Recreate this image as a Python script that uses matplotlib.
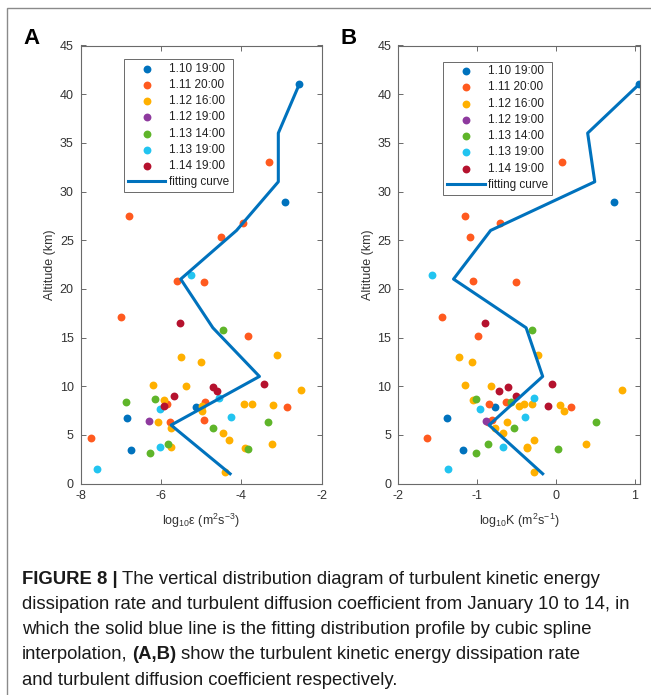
import matplotlib
matplotlib.use('Agg')
import matplotlib.pyplot as plt
from matplotlib.patches import Rectangle

# ---------------- data ----------------
series_labels = ['1.10 19:00', '1.11 20:00', '1.12 16:00', '1.12 19:00',
                 '1.13 14:00', '1.13 19:00', '1.14 19:00']
series_colors = ['#0072BD', '#FF5A1F', '#FFB000', '#8E3A9E',
                 '#5FB52A', '#22C4F0', '#B5122E']

alt_110 = [41.0, 28.9, 6.7, 3.4, 7.9]
eps_110 = [-2.56, -2.92, -6.84, -6.76, -5.14]
k_110 = [1.05, 0.73, -1.38, -1.18, -0.77]

alt_111 = [27.5, 25.3, 26.8, 33.0, 20.8, 20.7, 17.1, 15.2, 8.4, 7.9, 6.3, 6.5, 4.7, 8.2]
eps_111 = [-6.79, -4.50, -3.96, -3.31, -5.61, -4.93, -6.99, -3.84, -4.91, -2.87, -5.78, -4.92, -7.74, -5.85]
k_111 = [-1.155, -1.09, -0.71, 0.075, -1.05, -0.51, -1.45, -0.99, -0.64, 0.19, -0.86, -0.81, -1.64, -0.85]

alt_112a = [13.0, 12.5, 13.2, 10.1, 10.0, 9.6, 8.6, 8.0, 8.2, 8.2, 8.1, 7.4, 6.3, 5.7, 5.2, 4.5, 4.1, 3.8, 3.6, 1.2]
eps_112a = [-5.50, -5.01, -3.12, -6.19, -5.39, -2.52, -5.93, -4.99, -3.93, -3.73, -3.22, -4.99, -6.08, -5.76, -4.46, -4.32, -3.24, -5.75, -3.90, -4.40]
k_112a = [-1.23, -1.06, -0.23, -1.16, -0.83, 0.83, -1.05, -0.47, -0.41, -0.31, 0.045, 0.10, -0.62, -0.78, -0.67, -0.28, 0.38, -0.37, -0.37, -0.28]

alt_112b = [6.4]
eps_112b = [-6.31]
k_112b = [-0.89]

alt_113a = [15.8, 8.4, 8.7, 5.7, 6.3, 4.1, 3.1, 3.5]
eps_113a = [-4.45, -6.88, -6.14, -4.71, -3.34, -5.82, -6.28, -3.84]
k_113a = [-0.31, -0.57, -1.02, -0.53, 0.50, -0.86, -1.02, 0.03]

alt_113b = [21.4, 7.7, 8.8, 6.8, 3.7, 1.5]
eps_113b = [-5.25, -6.02, -4.56, -4.26, -6.03, -7.59]
k_113b = [-1.57, -0.96, -0.28, -0.39, -0.67, -1.37]

alt_114 = [16.5, 10.2, 9.9, 9.5, 9.0, 8.0]
eps_114 = [-5.53, -3.43, -4.71, -4.60, -5.67, -5.92]
k_114 = [-0.90, -0.05, -0.61, -0.73, -0.51, -0.10]

fit_alt = [1, 6, 11, 16, 21, 26, 31, 36, 41]
fit_eps = [-4.28, -5.75, -3.55, -4.71, -5.51, -4.12, -3.08, -3.08, -2.56]
fit_k = [-0.17, -0.85, -0.17, -0.38, -1.30, -0.83, 0.49, 0.40, 1.05]

alts = [alt_110, alt_111, alt_112a, alt_112b, alt_113a, alt_113b, alt_114]
eps_vals = [eps_110, eps_111, eps_112a, eps_112b, eps_113a, eps_113b, eps_114]
k_vals = [k_110, k_111, k_112a, k_112b, k_113a, k_113b, k_114]

xticks_a = [-8, -6, -4, -2]
xticks_b = [-2, -1, 0, 1]
yticks = [0, 5, 10, 15, 20, 25, 30, 35, 40, 45]

caption_lines = [
    [("FIGURE 8 |", 'bold'), ("The vertical distribution diagram of turbulent kinetic energy", 'normal')],
    [("dissipation rate and turbulent diffusion coefficient from January 10 to 14, in", 'normal')],
    [("which the solid blue line is the fitting distribution profile by cubic spline", 'normal')],
    [("interpolation,", 'normal'), ("(A,B)", 'bold'), ("show the turbulent kinetic energy dissipation rate", 'normal')],
    [("and turbulent diffusion coefficient respectively.", 'normal')],
]

# ---------------- figure ----------------
plt.rcParams['font.family'] = ['Liberation Sans', 'DejaVu Sans']
plt.rcParams['axes.unicode_minus'] = False
plt.rcParams['mathtext.fontset'] = 'custom'
plt.rcParams['mathtext.rm'] = 'Liberation Sans'
plt.rcParams['mathtext.it'] = 'Liberation Sans'

W, H = 651, 695
fig = plt.figure(figsize=(W / 100, H / 100), dpi=100)

def fx(px):
    return px / W

def fy(py):
    return 1 - py / H

axA = fig.add_axes([fx(80.7), fy(483.5), 241 / W, 438 / H])
axB = fig.add_axes([fx(398.3), fy(483.5), 241.2 / W, 438 / H])

spine_c = '#6a6a6a'
tick_c = '#333333'

def setup(ax, xvals, fit_x, xlim, xticks, xlabel, leg_anchor):
    for a, xv, c, lab in zip(alts, xvals, series_colors, series_labels):
        ax.scatter(xv, a, s=32, color=c, linewidths=0, label=lab, zorder=2)
    ax.plot(fit_x, fit_alt, color='#0072BD', lw=2.2, label='fitting curve', zorder=3)
    ax.set_xlim(*xlim)
    ax.set_ylim(0, 45)
    ax.set_xticks(xticks)
    ax.set_yticks(yticks)
    ax.tick_params(direction='in', top=True, right=True, length=3.5, width=0.7,
                   labelsize=9, colors=spine_c, labelcolor=tick_c, pad=5)
    for sp in ax.spines.values():
        sp.set_color(spine_c)
        sp.set_linewidth(0.8)
    ax.set_ylabel('Altitude (km)', fontsize=9, color=tick_c)
    ax.yaxis.set_label_coords(-0.127, 0.5)
    ax.yaxis.label.set_va('center')
    ax.set_xlabel(xlabel, fontsize=9, color=tick_c)
    ax.xaxis.set_label_coords(0.5, -0.086)
    ax.xaxis.label.set_va('center')
    leg = ax.legend(loc='upper left', bbox_to_anchor=leg_anchor, fontsize=8.5,
                    frameon=True, fancybox=False, edgecolor=spine_c, framealpha=1,
                    borderpad=0.3, labelspacing=0.36, handlelength=3.2,
                    handletextpad=0.3, borderaxespad=0, scatterpoints=1)
    leg.get_frame().set_linewidth(0.7)
    for t in leg.get_texts():
        t.set_color('#222222')

setup(axA, eps_vals, fit_eps, (-8, -2), xticks_a,
      r'log$_{10}$ε (m$^{2}$s$^{-3}$)', (0.18, 0.969))
setup(axB, k_vals, fit_k, (-2, 1.057), xticks_b,
      r'log$_{10}$K (m$^{2}$s$^{-1}$)', (0.187, 0.963))

# panel letters
fig.text(fx(32), fy(38), 'A', fontsize=16, fontweight='bold', ha='center', va='center')
fig.text(fx(349), fy(38), 'B', fontsize=16, fontweight='bold', ha='center', va='center')

# page border
fig.patches.append(Rectangle((fx(7), -0.1), 1.1, fy(8) + 0.1, transform=fig.transFigure,
                             fill=False, edgecolor='#8a8a8a', lw=1.0))

# caption
renderer = fig.canvas.get_renderer()
cap_fs = 13.3
cap_y0 = 579
cap_dy = 25.3
gap = 0.25 * cap_fs * 100 / 72
for i, segs in enumerate(caption_lines):
    x = 21.7
    y = cap_y0 + i * cap_dy
    for txt, wt in segs:
        t = fig.text(fx(x), fy(y), txt, fontsize=cap_fs, fontweight=wt,
                     ha='left', va='center', color='#1a1a1a')
        bb = t.get_window_extent(renderer)
        x += bb.width + gap

fig.savefig('out.png', dpi=100)
